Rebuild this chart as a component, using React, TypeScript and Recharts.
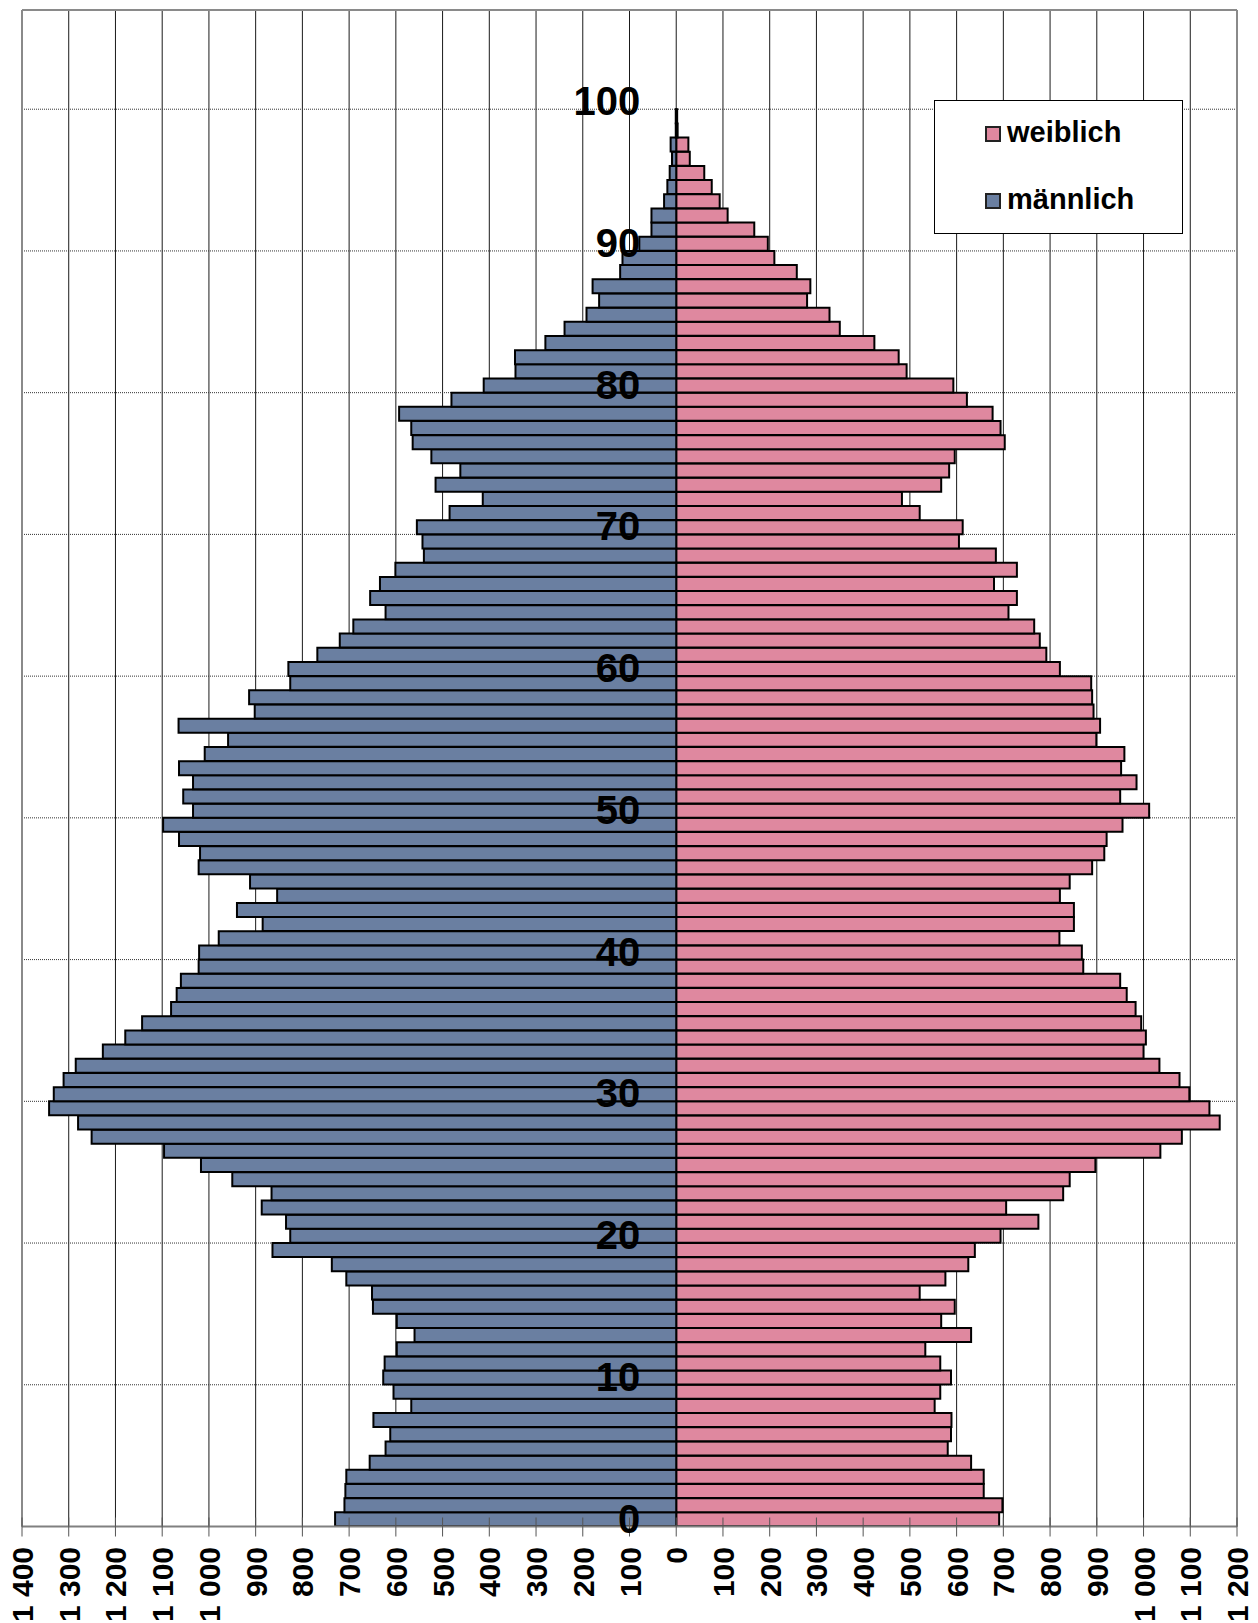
import React from 'react';
import { BarChart, Bar, XAxis, YAxis, CartesianGrid, Legend, ReferenceLine } from 'recharts';

// persons per single year of age, index = age (0..99)
const maleCounts = [
  730, 710, 708, 706, 656, 622, 612, 648, 567, 605,
  627, 624, 598, 560, 598, 649, 651, 706, 737, 864,
  826, 835, 887, 866, 950, 1017, 1096, 1251, 1280, 1342,
  1332, 1311, 1285, 1227, 1179, 1143, 1081, 1069, 1060, 1022,
  1021, 979, 885, 940, 854, 912, 1022, 1019, 1064, 1098,
  1034, 1055, 1034, 1064, 1009, 959, 1065, 902, 914, 826,
  830, 768, 720, 691, 622, 655, 634, 601, 540, 543,
  555, 485, 414, 515, 462, 524, 564, 567, 593, 481,
  412, 344, 345, 280, 239, 192, 165, 179, 120, 115,
  79, 53, 53, 26, 19, 14, 9, 12, 1, 1,
];

const femaleCounts = [
  691, 698, 658, 658, 631, 581, 588, 589, 553, 565,
  588, 565, 533, 631, 567, 596, 521, 576, 625, 639,
  694, 775, 706, 828, 842, 897, 1036, 1082, 1163, 1141,
  1098, 1077, 1034, 1000, 1005, 995, 983, 964, 950, 871,
  868, 820, 851, 851, 821, 842, 890, 916, 921, 955,
  1012, 950, 985, 952, 959, 899, 907, 893, 890, 888,
  821, 792, 778, 766, 711, 729, 680, 729, 684, 605,
  613, 521, 483, 567, 584, 596, 703, 694, 677, 622,
  593, 493, 476, 424, 350, 328, 280, 287, 258, 210,
  196, 167, 110, 93, 76, 60, 29, 26, 3, 2,
];

const ageTicks = [0, 10, 20, 30, 40, 50, 60, 70, 80, 90, 100];
const valueTicks = [
  -1400, -1300, -1200, -1100, -1000, -900, -800, -700, -600, -500, -400, -300, -200, -100,
  0, 100, 200, 300, 400, 500, 600, 700, 800, 900, 1000, 1100, 1200,
];

const legendItems = [
  { name: 'weiblich', color: '#DF889F' },
  { name: 'männlich', color: '#6A7FA1' },
];

const MALE_COLOR = '#6A7FA1';
const FEMALE_COLOR = '#DF889F';
const FONT = 'Arial, "Liberation Sans", sans-serif';

const W = 1258;
const H = 1623;
const MARGIN = { top: 10, right: 21, bottom: 0, left: 21 };
const Y_AXIS_W = 1;
const X_AXIS_H = 96.5;
const X_MIN = -1400;
const X_MAX = 1200;
const AGE_MAX = 107;

const PLOT_LEFT = MARGIN.left + Y_AXIS_W;
const PLOT_W = W - PLOT_LEFT - MARGIN.right;
const ZERO_X = PLOT_LEFT + (PLOT_W * -X_MIN) / (X_MAX - X_MIN);

const data = maleCounts.map((m, age) => ({
  age,
  y: age + 0.5,
  male: -m,
  female: femaleCounts[age],
}));

const fmt = (v: number) => {
  const a = Math.abs(v);
  return a >= 1000 ? `${Math.floor(a / 1000)} ${String(a % 1000).padStart(3, '0')}` : String(a);
};

const AgeTick = (props: any) => {
  const { y, payload } = props;
  return (
    <text
      x={ZERO_X - 36}
      y={y + 6}
      textAnchor="end"
      fontSize={40}
      fontWeight="bold"
      fontFamily={FONT}
      fill="#000"
    >
      {payload.value}
    </text>
  );
};

const ValueTick = (props: any) => {
  const { x, y, payload } = props;
  return (
    <g>
      <line x1={x} x2={x} y1={y - 9} y2={y + 10} stroke="#555" strokeWidth={1} />
      <text
        transform={`translate(${x + 11},${y + 20.5}) rotate(-90)`}
        textAnchor="end"
        fontSize={30}
        fontWeight="bold"
        fontFamily={FONT}
        fill="#000"
      >
        {fmt(payload.value)}
      </text>
    </g>
  );
};

const LegendBox = () => (
  <svg width={249} height={134} style={{ display: 'block' }}>
    <rect x={0.5} y={0.5} width={248} height={133} fill="#fff" stroke="#000" strokeWidth={1} />
    {legendItems.map((item, i) => (
      <g key={item.name}>
        <rect x={52} y={27 + i * 67} width={14} height={14} fill={item.color} stroke="#222" strokeWidth={2} />
        <text x={73} y={42 + i * 67} fontSize={29} fontWeight="bold" fontFamily={FONT} fill="#000">
          {item.name}
        </text>
      </g>
    ))}
  </svg>
);

export default function App() {
  return (
    <div style={{ position: 'absolute', left: 0, top: 0, width: W, height: H, background: '#fff' }}>
      <BarChart
        width={W}
        height={H}
        data={data}
        layout="vertical"
        margin={MARGIN}
        stackOffset="sign"
        barCategoryGap={0}
        barGap={0}
      >
        <CartesianGrid horizontal={false} stroke="#1a1a1a" strokeWidth={1} />
        <CartesianGrid vertical={false} stroke="#333" strokeDasharray="1 1" strokeWidth={1} />
        <XAxis
          type="number"
          domain={[X_MIN, X_MAX]}
          ticks={valueTicks}
          interval={0}
          height={X_AXIS_H}
          tickSize={0}
          tickMargin={0}
          tick={<ValueTick />}
          axisLine={{ stroke: '#808080', strokeWidth: 2 }}
          allowDataOverflow
        />
        <Bar dataKey="female" stackId="p" fill={FEMALE_COLOR} stroke="#000" strokeWidth={2} isAnimationActive={false} />
        <Bar dataKey="male" stackId="p" fill={MALE_COLOR} stroke="#000" strokeWidth={2} isAnimationActive={false} />
        <ReferenceLine x={X_MIN} stroke="#8a8a8a" strokeWidth={2} />
        <ReferenceLine x={X_MAX} stroke="#8a8a8a" strokeWidth={2} />
        <ReferenceLine y={AGE_MAX} stroke="#8a8a8a" strokeWidth={2} />
        <YAxis
          type="number"
          dataKey="y"
          domain={[0, AGE_MAX]}
          ticks={ageTicks}
          interval={0}
          width={Y_AXIS_W}
          reversed
          axisLine={false}
          tickLine={false}
          allowDataOverflow
          tick={<AgeTick />}
        />
        <Legend
          layout="vertical"
          align="center"
          verticalAlign="middle"
          content={<LegendBox />}
          wrapperStyle={{ left: 934, top: 100, width: 249, height: 134 }}
        />
      </BarChart>
    </div>
  );
}
